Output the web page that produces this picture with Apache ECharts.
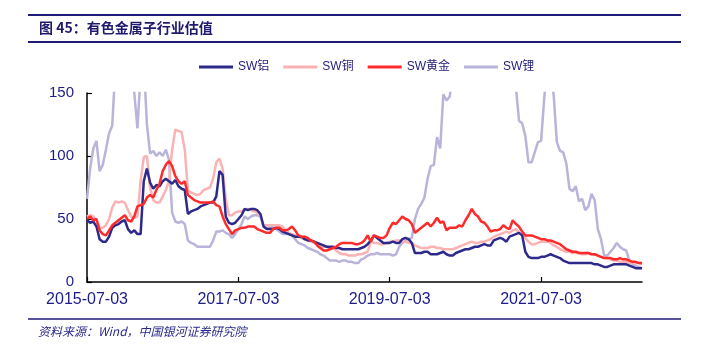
<!DOCTYPE html>
<html>
<head>
<meta charset="utf-8">
<script src="https://cdn.jsdelivr.net/npm/echarts@6/dist/echarts.min.js"></script>
<style>
html,body{margin:0;padding:0;background:#fff;}
#c{width:714px;height:347px;}
</style>
</head>
<body>
<div id="c"></div>
<script>
// Categories: semi-monthly dates from 2015-07-03 to 2022-11-03
const dates = [];
for (let y = 2015; y <= 2022; y++) {
  for (let m = 1; m <= 12; m++) {
    const mm = (m < 10 ? '0' : '') + m;
    if (y === 2015 && m < 7) continue;
    if (y === 2022 && m > 11) continue;
    dates.push(y + '-' + mm + '-03');
    if (!(y === 2022 && m === 11)) dates.push(y + '-' + mm + '-18');
  }
}
const tickLabels = ['2015-07-03', '2017-07-03', '2019-07-03', '2021-07-03'];
const seriesNames = ['SW铝', 'SW铜', 'SW黄金', 'SW锂'];

const aluminium = [
  49,47,48,44,34,32,32,36,43,45, 46,48,49,42,39,41,38,38,80,90,
  79,74,77,76,80,82,80,78,81,76, 74,73,54,56,57,58,60,61,62,63,
  63,68,88,85,52,47,
  46,47,50,53,58,57,58,58,57,54, 44,42,42,42,43,42,40,39,38,37,
  36,36,36,34,33,33,32,31,30,29, 28,28,28,27,27,26,26,26,26,26,
  26,27,28,30,
  33,37,35,33,31,31,31,32,31,31, 34,35,34,31,23,23,23,24,24,22,
  22,22,23,24,22,21,21,23,24,25, 26,26,27,28,28,29,30,29,29,33,
  34,35,34,32,
  36,37,38,39,37,24,20,19,19,19, 20,20,21,22,21,20,19,17,16,15,
  15,15,15,15,15,15,15,14,14,13, 12,12,13,14,14,14,14,14,13,12,
  11,11,11
];
const copper = [
  52,53,52,49,43,43,45,50,59,64, 63,64,63,57,52,51,52,80,99,100,
  75,65,63,63,68,73,80,105,121,120, 119,105,73,71,70,69,70,73,74,75,
  82,95,98,90,66,53,
  53,55,56,56,57,58,57,56,55,52, 45,45,45,45,45,45,44,41,39,38,
  37,36,35,34,33,32,31,30,29,28, 28,27,27,25,23,22,22,21,21,21,
  22,22,23,24,
  32,31,31,30,30,31,32,32,33,33, 32,32,31,31,29,28,27,27,27,28,
  28,27,27,26,26,26,26,27,28,29, 30,31,32,31,31,32,32,33,34,36,
  37,38,39,40,
  39,41,42,39,37,35,32,30,30,31, 32,32,32,31,29,28,26,25,24,24,
  23,23,23,22,22,23,22,22,21,20, 19,19,18,17,17,16,16,16,15,15,
  15,15,14
];
const gold = [
  50,52,49,50,41,38,37,41,45,47, 49,51,53,49,48,52,60,61,62,67,
  69,67,73,78,88,93,96,92,84,80, 78,80,69,67,65,64,63,63,63,63,
  64,61,60,52,46,42,
  38,41,42,43,43,44,44,44,42,41, 40,39,39,42,43,43,41,41,42,44,
  41,37,36,36,35,33,32,29,27,25, 25,26,27,28,30,31,31,31,31,30,
  30,31,33,37,
  32,37,36,35,35,37,43,47,46,49, 52,50,49,46,39,41,43,45,47,44,
  47,51,47,48,41,43,43,43,45,44, 49,53,58,54,52,48,47,44,40,41,
  41,42,45,43,
  42,49,46,44,40,37,37,37,36,35, 34,34,33,33,32,31,30,28,26,25,
  24,24,23,23,23,23,22,22,21,20, 19,19,19,18,18,19,18,18,17,16,
  16,15,15
];
const lithium = [
  66,90,106,112,88,93,105,118,124,170, 185,190,190,185,180,150,122,165,175,125,
  102,104,100,103,100,105,97,55,48,47, 48,46,33,31,30,28,28,28,28,28,
  33,40,40,41,39,38,
  35,38,42,46,52,50,52,53,53,52, 44,43,43,44,42,40,38,38,38,37,
  34,31,30,29,27,26,25,24,22,21, 19,17,17,17,16,17,17,16,16,15,
  15,18,19,21,
  22,22,23,22,22,22,22,21,22,28, 31,33,34,35,50,58,62,67,82,92,
  93,115,106,149,144,147,165,180,195,210, 205,220,230,215,200,210,225,240,230,215,
  205,190,185,175,
  170,160,155,128,126,116,95,95,103,111, 112,146,175,170,148,111,104,103,94,74,
  72,76,64,66,57,60,70,65,42,34, 21,21,24,27,31,28,26,25,17,14,
  13,12,11
];

const colors = {
  'SW铝': '#2e2a8c',
  'SW铜': '#fbb2b2',
  'SW黄金': '#ff2a2a',
  'SW锂': '#b8b4da'
};
const navy = '#1f1b78';
const labelColor = '#1c1c8a';

function mk(name, data) {
  return {
    name: name, type: 'line', data: data, symbol: 'none', showSymbol: false,
    clip: true, smooth: false,
    lineStyle: { width: 2.5, color: colors[name] },
    itemStyle: { color: colors[name] }
  };
}

const chart = echarts.init(document.getElementById('c'), null, { renderer: 'canvas' });
chart.setOption({
  animation: false,
  backgroundColor: '#fff',
  grid: { left: 87, right: 72, top: 93, bottom: 65, containLabel: false },
  legend: {
    data: seriesNames,
    left: 194, top: 56,
    icon: 'rect', itemWidth: 34, itemHeight: 3, itemGap: 14,
    textStyle: { fontSize: 12, color: navy, fontFamily: 'Liberation Sans, Noto Sans CJK SC' }
  },
  xAxis: {
    type: 'category', data: dates, boundaryGap: false,
    axisLine: { lineStyle: { color: '#000', width: 1.5 } },
    axisTick: { inside: true, length: 5, lineStyle: { color: '#000', width: 1.2 },
      interval: function (i, v) { return tickLabels.indexOf(v) >= 0; } },
    axisLabel: { color: labelColor, fontSize: 16, margin: 10, fontFamily: 'Liberation Sans',
      interval: function (i, v) { return tickLabels.indexOf(v) >= 0; } },
    splitLine: { show: false }
  },
  yAxis: {
    type: 'value', min: 0, max: 150, interval: 50,
    axisLine: { show: true, lineStyle: { color: '#000', width: 1.5 } },
    axisTick: { show: true, inside: true, length: 5, lineStyle: { color: '#000', width: 1.2 } },
    axisLabel: { color: labelColor, fontSize: 15, margin: 13, fontFamily: 'Liberation Sans' },
    splitLine: { show: false }
  },
  series: [
    mk('SW锂', lithium),
    mk('SW铜', copper),
    mk('SW铝', aluminium),
    mk('SW黄金', gold)
  ],
  graphic: [
    { type: 'line', shape: { x1: 28, y1: 15, x2: 681, y2: 15 }, style: { stroke: navy, lineWidth: 2 } },
    { type: 'text', left: 39, top: 21, style: { text: '图 45：有色金属子行业估值', fill: '#1e1a6e',
      font: 'bold 14px "Noto Sans CJK SC", sans-serif' } },
    { type: 'line', shape: { x1: 28, y1: 42, x2: 681, y2: 42 }, style: { stroke: navy, lineWidth: 2 } },
    { type: 'line', shape: { x1: 28, y1: 319, x2: 681, y2: 319 }, style: { stroke: navy, lineWidth: 1.5 } },
    { type: 'text', left: 38, top: 325, style: { text: '资料来源：Wind，中国银河证券研究院', fill: '#2a2a8a',
      font: 'italic 12px "Noto Sans CJK SC", sans-serif' } }
  ]
});
</script>
</body>
</html>
